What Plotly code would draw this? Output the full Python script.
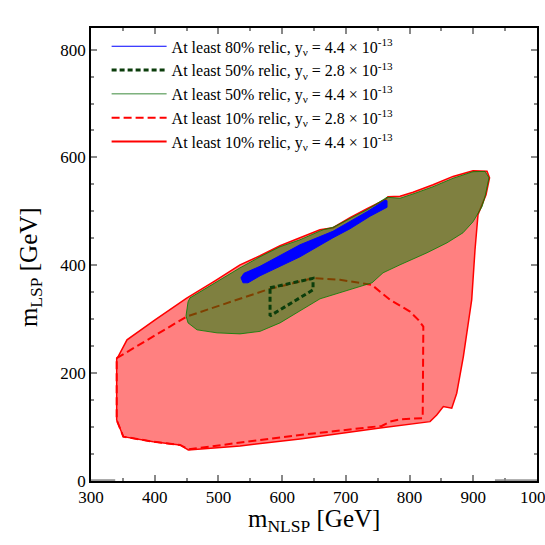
import plotly.graph_objects as go

# ---- data (GeV) ----
# At least 10% relic, y_nu = 4.4e-13 (solid red, filled)
r10_44_x = [342.4, 356.5, 400.5, 450.2, 494.6, 533.9, 565.3, 596.7, 628.0, 659.4, 679.8, 706.5,
            733.2, 761.5, 766.2, 785.0, 805.4, 836.8, 868.2, 899.6, 921.6, 925.5, 920.0, 912.1,
            907.4, 902.7, 897.5, 884.4, 874.0, 866.2, 853.0, 842.6, 832.1, 753.6, 628.0, 533.9,
            452.7, 439.7, 397.8, 350.7, 340.3, 340.3, 342.4]
r10_44_y = [230.1, 261.7, 298.8, 339.1, 371.2, 400.9, 417.6, 436.2, 451.0, 465.9, 469.6, 488.1,
            504.8, 521.5, 527.1, 528.0, 535.5, 549.4, 564.8, 575.4, 574.4, 562.4, 530.8, 506.7,
            493.7, 428.7, 335.9, 230.7, 162.8, 134.9, 137.9, 122.5, 110.1, 98.4, 78.0, 65.0,
            57.5, 66.8, 72.9, 82.2, 113.2, 227.7, 230.1]

# At least 10% relic, y_nu = 2.8e-13 (dashed red)
r10_28_x = [340.3, 450.2, 575.8, 628.0, 648.9, 690.8, 740.6, 769.3, 800.7, 813.7, 821.6, 820.6,
            785.0, 769.3, 756.3, 628.0, 452.7, 439.7, 397.8, 350.7, 340.3, 340.3]
r10_28_y = [227.7, 304.9, 354.5, 369.9, 376.2, 373.1, 363.8, 335.9, 314.2, 298.8, 286.4, 116.4,
            114.5, 110.1, 102.1, 85.4, 58.8, 66.8, 72.9, 82.2, 113.2, 227.7]

# At least 50% relic, y_nu = 4.4e-13 (green, filled)
r50_44_x = [455.4, 494.6, 533.9, 565.3, 596.7, 628.0, 664.1, 679.8, 706.5, 733.2, 764.6, 785.0,
            808.6, 836.8, 868.2, 899.6, 918.4, 924.7, 918.4, 913.7, 899.6, 883.9, 858.8, 827.4,
            785.0, 758.3, 741.1, 706.5, 659.4, 628.0, 596.7, 565.3, 533.9, 497.8, 466.4, 452.3,
            449.1, 452.3, 455.4]
r50_44_y = [339.6, 367.5, 395.3, 415.7, 434.3, 447.3, 465.9, 470.5, 487.2, 503.0, 526.2, 524.3,
            533.6, 545.7, 561.4, 573.5, 574.1, 562.4, 527.1, 508.5, 480.7, 460.3, 441.7, 423.2,
            400.9, 386.0, 367.5, 354.5, 337.8, 315.5, 293.2, 277.5, 272.8, 274.7, 280.3, 293.2,
            306.2, 332.2, 339.6]

# At least 50% relic, y_nu = 2.8e-13 (dark green dashed)
r50_28_x = [581.0, 648.5, 648.5, 581.0, 581.0]
r50_28_y = [358.2, 375.8, 354.5, 306.2, 358.2]

# At least 80% relic, y_nu = 4.4e-13 (blue band)
r80_44_x = [535.4, 540.1, 565.3, 596.7, 628.0, 679.8, 733.2, 761.5, 764.6, 764.6, 737.9, 706.5,
            679.8, 628.0, 596.7, 565.3, 546.4, 538.6, 535.4]
r80_44_y = [376.8, 385.1, 398.1, 417.6, 438.0, 463.1, 499.3, 520.6, 519.7, 507.6, 490.9, 467.7,
            451.0, 415.7, 398.1, 380.5, 367.5, 367.5, 376.8]

# grey baseline segments
base_left_x = [300, 338]
base_right_x = [934, 1000]
base_y = [1.5, 1.5]

legend_names = [
    "At least 80% relic, y<sub>ν</sub> = 4.4 × 10<sup>-13</sup>",
    "At least 50% relic, y<sub>ν</sub> = 2.8 × 10<sup>-13</sup>",
    "At least 50% relic, y<sub>ν</sub> = 4.4 × 10<sup>-13</sup>",
    "At least 10% relic, y<sub>ν</sub> = 2.8 × 10<sup>-13</sup>",
    "At least 10% relic, y<sub>ν</sub> = 4.4 × 10<sup>-13</sup>",
]

FONT = "Liberation Serif"
DKGREEN = "#0b3d0b"

fig = go.Figure()

fig.add_trace(go.Scatter(x=r10_44_x, y=r10_44_y, mode="lines", fill="toself",
                         fillcolor="#ff8080", line=dict(color="red", width=1.5),
                         showlegend=False, hoverinfo="skip"))
fig.add_trace(go.Scatter(x=r10_28_x, y=r10_28_y, mode="lines",
                         line=dict(color="red", width=2, dash="8px,4px"),
                         showlegend=False, hoverinfo="skip"))
fig.add_trace(go.Scatter(x=r50_44_x, y=r50_44_y, mode="lines", fill="toself",
                         fillcolor="rgba(0,128,0,0.5)", line=dict(color="rgba(0,128,0,0.8)", width=1),
                         showlegend=False, hoverinfo="skip"))
fig.add_trace(go.Scatter(x=r80_44_x, y=r80_44_y, mode="lines", fill="toself",
                         fillcolor="blue", line=dict(color="blue", width=1),
                         showlegend=False, hoverinfo="skip"))
fig.add_trace(go.Scatter(x=r50_28_x, y=r50_28_y, mode="lines",
                         line=dict(color=DKGREEN, width=3, dash="5px,3px"),
                         showlegend=False, hoverinfo="skip"))
for bx in (base_left_x, base_right_x):
    fig.add_trace(go.Scatter(x=bx, y=base_y, mode="lines",
                             line=dict(color="#999999", width=2),
                             showlegend=False, hoverinfo="skip"))

# legend entries
leg_styles = [
    dict(color="blue", width=1),
    dict(color=DKGREEN, width=3, dash="5px,3px"),
    dict(color="#3a8a3a", width=1),
    dict(color="red", width=2, dash="8px,4px"),
    dict(color="red", width=2),
]
for name, st in zip(legend_names, leg_styles):
    fig.add_trace(go.Scatter(x=[None], y=[None], mode="lines", line=st, name=name))

axis_common = dict(showline=True, linecolor="black", linewidth=1.5, mirror="allticks",
                   ticks="inside", tickcolor="#888888", ticklen=6, tickwidth=1.5,
                   showgrid=False, zeroline=False, automargin=False,
                   ticklabeloverflow="allow",
                   tickfont=dict(family=FONT, size=17, color="black"))

fig.update_layout(
    width=545, height=545,
    margin=dict(l=91, r=8, t=28, b=64, autoexpand=False),
    paper_bgcolor="white", plot_bgcolor="white",
    font=dict(family=FONT, color="black"),
    xaxis=dict(range=[300, 1000], dtick=100, tick0=300,
               minor=dict(dtick=50, ticks="inside", ticklen=3, tickcolor="#888888"),
               **axis_common),
    yaxis=dict(range=[0, 840], dtick=200, tick0=0,
               minor=dict(dtick=50, ticks="inside", ticklen=3, tickcolor="#888888"),
               **axis_common),
    legend=dict(x=0.035, y=0.997, xanchor="left", yanchor="top",
                bgcolor="rgba(0,0,0,0)", borderwidth=0,
                font=dict(family=FONT, size=16, color="black"),
                tracegroupgap=0, itemwidth=55),
    showlegend=True,
    annotations=[
        dict(text="m<sub>NLSP</sub> [GeV]", xref="paper", yref="paper", x=0.5, y=-0.088,
             xanchor="center", yanchor="middle", showarrow=False,
             font=dict(family=FONT, size=25, color="black")),
        dict(text="m<sub>LSP</sub> [GeV]", xref="paper", yref="paper", x=-0.137, y=0.472,
             xanchor="center", yanchor="middle", textangle=-90, showarrow=False,
             font=dict(family=FONT, size=25, color="black")),
    ],
)

fig.write_html("out.html", config={"displayModeBar": False},
               post_script="document.body.style.margin='0px';document.body.style.padding='0px';")
